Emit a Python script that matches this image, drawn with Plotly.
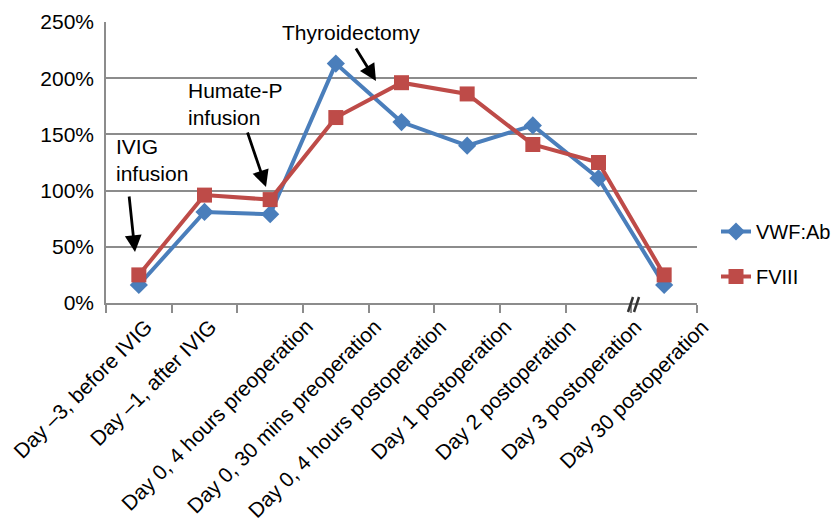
import plotly.graph_objects as go

categories = [
    "Day \u20133, before IVIG",
    "Day \u20131, after IVIG",
    "Day 0, 4 hours preoperation",
    "Day 0, 30 mins preoperation",
    "Day 0, 4 hours postoperation",
    "Day 1 postoperation",
    "Day 2 postoperation",
    "Day 3 postoperation",
    "Day 30 postoperation",
]
vwf_ab = [16, 81, 79, 213, 161, 140, 158, 111, 16]
fviii = [25, 96, 92, 165, 196, 186, 141, 125, 25]
y_ticks = [0, 50, 100, 150, 200, 250]
y_tick_labels = ["0%", "50%", "100%", "150%", "200%", "250%"]

# page has an 8px body margin; figure drawn at (8, 8)
OFF = 8
W, H = 840 - OFF, 523 - OFF
L, R, T, B = 106, 697, 22, 303  # plot area in screen pixels


def px(x):
    return (x - L) / (R - L)


def py(y):
    return (B - y) / (B - T)


BLUE = "#4A7EBB"
RED = "#BE4B48"
GRID = "#8C8C8C"
FONT = "Liberation Sans, Arial, sans-serif"

xs = list(range(len(categories)))
fig = go.Figure()
fig.add_trace(go.Scatter(
    x=xs, y=vwf_ab, name="VWF:Ab", mode="lines+markers",
    line=dict(color=BLUE, width=4),
    marker=dict(symbol="diamond", size=14, color=BLUE),
    legendgroup="a", text=categories,
))
fig.add_trace(go.Scatter(
    x=xs, y=fviii, name="FVIII", mode="lines+markers",
    line=dict(color=RED, width=4),
    marker=dict(symbol="square", size=15, color=RED),
    legendgroup="b", text=categories,
))

ann_font = dict(family=FONT, size=21, color="black")
arrow = dict(showarrow=True, arrowhead=2, arrowsize=1.2, arrowwidth=2.8,
             arrowcolor="black", xref="paper", yref="paper",
             axref="pixel", ayref="pixel", text="")
annotations = [
    dict(text="Thyroidectomy", xref="paper", yref="paper", x=px(351), y=py(33),
         showarrow=False, font=ann_font, xanchor="center", yanchor="middle"),
    dict(text="Humate-P<br>infusion", xref="paper", yref="paper", x=px(186), y=py(104),
         showarrow=False, font=ann_font, xanchor="left", yanchor="middle", align="left"),
    dict(text="IVIG<br>infusion", xref="paper", yref="paper", x=px(114), y=py(160),
         showarrow=False, font=ann_font, xanchor="left", yanchor="middle", align="left"),
    dict(arrow, x=px(376), y=py(81), ax=355 - 376, ay=47 - 81),
    dict(arrow, x=px(266), y=py(187), ax=247 - 266, ay=131 - 187),
    dict(arrow, x=px(135), y=py(252), ax=129 - 135, ay=195 - 252),
]

# rotated category labels (Excel-style placement: later labels sit half a slot right)
label_xshift = [21, 19, 50, 52, 52, 51, 50, 50, 52]
for i, cat in enumerate(categories):
    annotations.append(dict(
        text=cat, x=i, xref="x", y=0, yref="paper", showarrow=False,
        textangle=-45, xanchor="right", yanchor="top",
        xshift=label_xshift[i], yshift=-9,
        font=dict(family=FONT, size=21, color="black"),
    ))

# axis-break mark "//"
shapes = [
    dict(type="line", xref="paper", yref="paper",
         x0=px(628), y0=py(312), x1=px(633), y1=py(297),
         line=dict(color="#333333", width=2.5)),
    dict(type="line", xref="paper", yref="paper",
         x0=px(634), y0=py(312), x1=px(639), y1=py(297),
         line=dict(color="#333333", width=2.5)),
]

fig.update_layout(
    width=W, height=H,
    margin=dict(l=L - OFF, r=840 - R, t=T - OFF, b=523 - B, autoexpand=False),
    paper_bgcolor="white", plot_bgcolor="white",
    font=dict(family=FONT, size=20, color="black"),
    showlegend=True,
    legend=dict(x=px(716), y=py(212), xanchor="left", yanchor="top",
                font=dict(family=FONT, size=20, color="black"),
                tracegroupgap=16, bgcolor="rgba(0,0,0,0)"),
    annotations=annotations,
    shapes=shapes,
    xaxis=dict(
        tickmode="array", tickvals=[i - 0.5 for i in range(len(categories) + 1)],
        ticktext=[""] * (len(categories) + 1),
        ticks="outside", ticklen=8,
        tickcolor=GRID, tickwidth=1.5, showgrid=False,
        showline=True, linecolor=GRID, linewidth=1.5,
        range=[-0.5, len(categories) - 0.5], zeroline=False,
    ),
    yaxis=dict(
        range=[0, 250], tickvals=y_ticks, ticktext=y_tick_labels,
        showgrid=True, gridcolor=GRID, gridwidth=1.5,
        showline=True, linecolor=GRID, linewidth=1.5,
        ticks="", zeroline=False, ticklabelstandoff=6,
        tickfont=dict(family=FONT, size=21, color="black"),
    ),
)

fig.write_html("out.html")
